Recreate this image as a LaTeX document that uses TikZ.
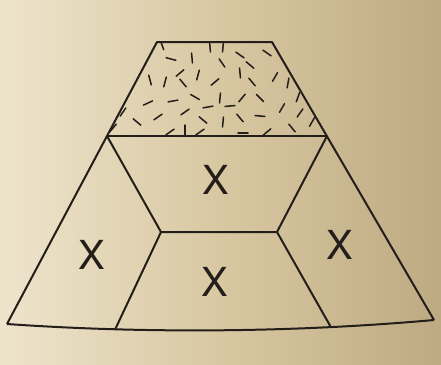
\documentclass[tikz,border=0pt]{standalone}
\usepackage{fontspec}
\setmainfont{TeX Gyre Heros}
\usepackage{tikz}

\definecolor{ink}{RGB}{35,30,25}
\definecolor{paperlight}{RGB}{238,228,204}
\definecolor{paper}{RGB}{216,200,162}
\definecolor{paperdark}{RGB}{190,170,130}

\begin{document}
\begin{tikzpicture}[x=1pt,y=-1pt,
        edge/.style={line width=2pt,draw=ink,line join=round},
        fleck/.style={line width=1.5pt,draw=ink,line cap=round},
        cross/.style={font=\fontsize{40}{40}\selectfont,text=ink,inner sep=0pt}]

    \shade[left color=paperlight,right color=paperdark,middle color=paper] (0,0) rectangle (441,364);
    \useasboundingbox (0,0) rectangle (441,364);

    \coordinate (tl) at (157,42);
    \coordinate (tr) at (272,42);
    \coordinate (ml) at (107,136);
    \coordinate (mr) at (327,136);
    \coordinate (il) at (161,232);
    \coordinate (ir) at (277,232);
    \coordinate (bl) at (7,324);
    \coordinate (br) at (434,320);

    % flecks in the top part
    \begin{scope}
    \clip (tl) -- (tr) -- (mr) -- (ml) -- cycle;
    \foreach \x/\y/\a in {162/45/110, 210/47/95, 223/47/85, 171/59/-15, 192/58/95,
            240/55/-35, 267/53/-35, 222/63/-55, 180/73/40, 198/75/75,
            150/80/105, 165/82/75, 183/83/-50, 215/82/40, 240/73/95,
            252/82/-50, 250/65/-40, 275/77/60, 288/83/80, 148/103/25,
            173/101/10, 195/97/-30, 220/98/85, 242/98/50, 260/98/-45,
            282/108/60, 298/97/70, 185/112/35, 208/107/10, 230/106/5,
            203/120/-40, 158/117/35, 137/122/-40, 223/122/85, 240/118/-50,
            260/116/-5, 300/113/55, 292/128/-50, 170/132/35, 185/130/90,
            200/132/35, 243/133/0, 267/132/40, 123/112/55, 312/122/60,
            113/128/50}
        \draw[fleck,shift={(\x,\y)},rotate=\a] (-5,0) -- (5,0);
    \end{scope}

    \draw[edge] (bl) .. controls (150,334) and (300,332) .. (br)
        coordinate[pos=0.25] (bli) coordinate[pos=0.75] (bri);
    \draw[edge] (bl) -- (tl) -- (tr) -- (br);
    \draw[edge] (ml) -- (mr);
    \draw[edge] (ml) -- (il) -- (ir) -- (mr);
    \draw[edge] (il) -- (bli);
    \draw[edge] (ir) -- (bri);

    \node[cross] (xtop) at (216,180) {X};
    \node[cross] (xleft) at (92,255) {X};
    \node[cross] (xbottom) at (215,282) {X};
    \node[cross] (xright) at (340,245) {X};
\end{tikzpicture}
\end{document}
